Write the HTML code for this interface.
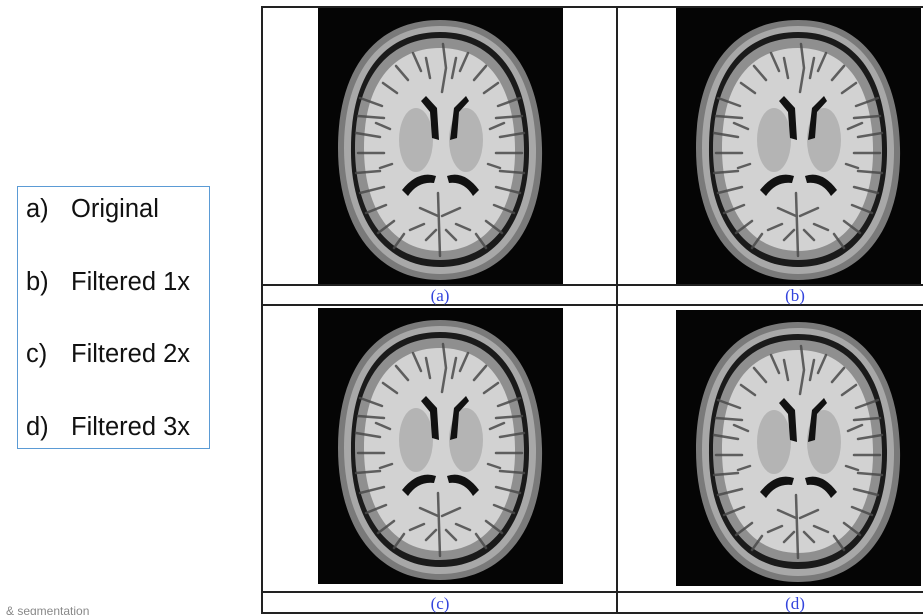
<!DOCTYPE html>
<html><head><meta charset="utf-8">
<style>
html,body{margin:0;padding:0;background:#fff;}
body{width:923px;height:615px;position:relative;overflow:hidden;font-family:"Liberation Sans",sans-serif;}
svg{position:absolute;left:0;top:0;}
</style></head>
<body>
<svg width="923" height="615" viewBox="0 0 923 615">
<defs>
  <g id="brain">
    <rect x="0" y="0" width="245" height="276" fill="#050505"/>
    <path d="M122,12 C185,12 222,60 224,140 C226,215 190,272 122,272 C55,272 20,215 20,140 C20,60 58,12 122,12 Z" fill="#7a7a7a"/>
    <path d="M122,18 C180,18 216,62 218,140 C219,210 186,266 122,266 C60,266 26,210 26,140 C26,62 64,18 122,18 Z" fill="#a8a8a8"/>
    <path d="M122,24 C176,24 210,64 211,140 C212,206 182,259 122,259 C63,259 32,206 33,140 C33,64 68,24 122,24 Z" fill="#1a1a1a"/>
    <path d="M122,30 C172,30 205,68 206,140 C207,203 178,252 122,252 C66,252 37,203 37,140 C37,68 72,30 122,30 Z" fill="#8f8f8f"/>
    <path d="M122,40 C166,40 196,72 197,140 C198,198 172,243 122,243 C72,243 46,198 46,140 C46,72 78,40 122,40 Z" fill="#d2d2d2"/>
    <g stroke="#4a4a4a" stroke-width="2.5" fill="none" stroke-linecap="round" opacity="0.85">
      <path d="M125,36 L128,60 L124,84"/>
      <path d="M42,90 l22,8 M40,108 l26,2 M38,125 l24,4 M40,145 l26,0 M38,165 l24,-2 M42,185 l24,-6 M48,205 l20,-8 M60,225 l16,-12 M76,240 l10,-14"/>
      <path d="M202,90 l-22,8 M204,108 l-26,2 M206,125 l-24,4 M204,145 l-26,0 M206,165 l-24,-2 M202,185 l-24,-6 M196,205 l-20,-8 M184,225 l-16,-12 M168,240 l-10,-14"/>
      <path d="M95,45 l8,18 M150,45 l-8,18 M78,58 l12,14 M168,58 l-12,14 M65,75 l14,10 M180,75 l-14,10 M108,50 l4,20 M138,50 l-4,20"/>
      <path d="M120,185 L122,248 M102,200 l18,8 M142,200 l-18,8 M92,222 l14,-6 M152,222 l-14,-6 M108,232 l10,-10 M138,232 l-10,-10"/>
      <path d="M58,115 l14,6 M62,160 l12,-4 M186,115 l-14,6 M182,160 l-12,-4"/>
    </g>
    <ellipse cx="98" cy="132" rx="17" ry="32" fill="#b4b4b4"/>
    <ellipse cx="148" cy="132" rx="17" ry="32" fill="#b4b4b4"/>
    <path d="M108,88 L119,100 L121,132 L114,130 L112,104 L103,93 Z" fill="#111"/>
    <path d="M148,88 L136,100 L132,132 L139,130 L141,104 L151,93 Z" fill="#111"/>
    <path d="M84,182 Q100,162 118,168 L116,175 Q100,173 90,188 Z" fill="#111"/>
    <path d="M161,182 Q146,162 129,168 L131,175 Q146,173 155,188 Z" fill="#111"/>
  </g>
</defs>

<rect x="17.5" y="186.5" width="192" height="262" fill="#fff" stroke="#5b9bd5" stroke-width="1"/>
<g font-size="25.5" fill="#111" font-family="Liberation Sans, sans-serif">
  <text x="26" y="217">a)<tspan x="71">Original</tspan></text>
  <text x="26" y="290">b)<tspan x="71">Filtered 1x</tspan></text>
  <text x="26" y="362">c)<tspan x="71">Filtered 2x</tspan></text>
  <text x="26" y="435">d)<tspan x="71">Filtered 3x</tspan></text>
</g>
<text x="6" y="615" font-size="12" fill="#888">&amp; segmentation</text>

<use href="#brain" x="318" y="8"/>
<use href="#brain" x="676" y="8"/>
<use href="#brain" x="318" y="308"/>
<use href="#brain" x="676" y="310"/>
<rect x="318" y="587" width="246" height="5" fill="#fff"/>
<rect x="676" y="588" width="247" height="4" fill="#fff"/>

<g stroke="#222" stroke-width="2" fill="none">
  <line x1="262" y1="6" x2="262" y2="614"/>
  <line x1="617" y1="6" x2="617" y2="614"/>
  <line x1="262" y1="7" x2="923" y2="7"/>
  <line x1="262" y1="285" x2="923" y2="285"/>
  <line x1="262" y1="305" x2="923" y2="305"/>
  <line x1="262" y1="592" x2="923" y2="592"/>
  <line x1="262" y1="613" x2="923" y2="613"/>
</g>
<g font-family="Liberation Serif, serif" font-size="17" fill="#3344dd" text-anchor="middle">
  <text x="440" y="301">(a)</text>
  <text x="795" y="301">(b)</text>
  <text x="440" y="609">(c)</text>
  <text x="795" y="609">(d)</text>
</g>
</svg>
</body></html>
